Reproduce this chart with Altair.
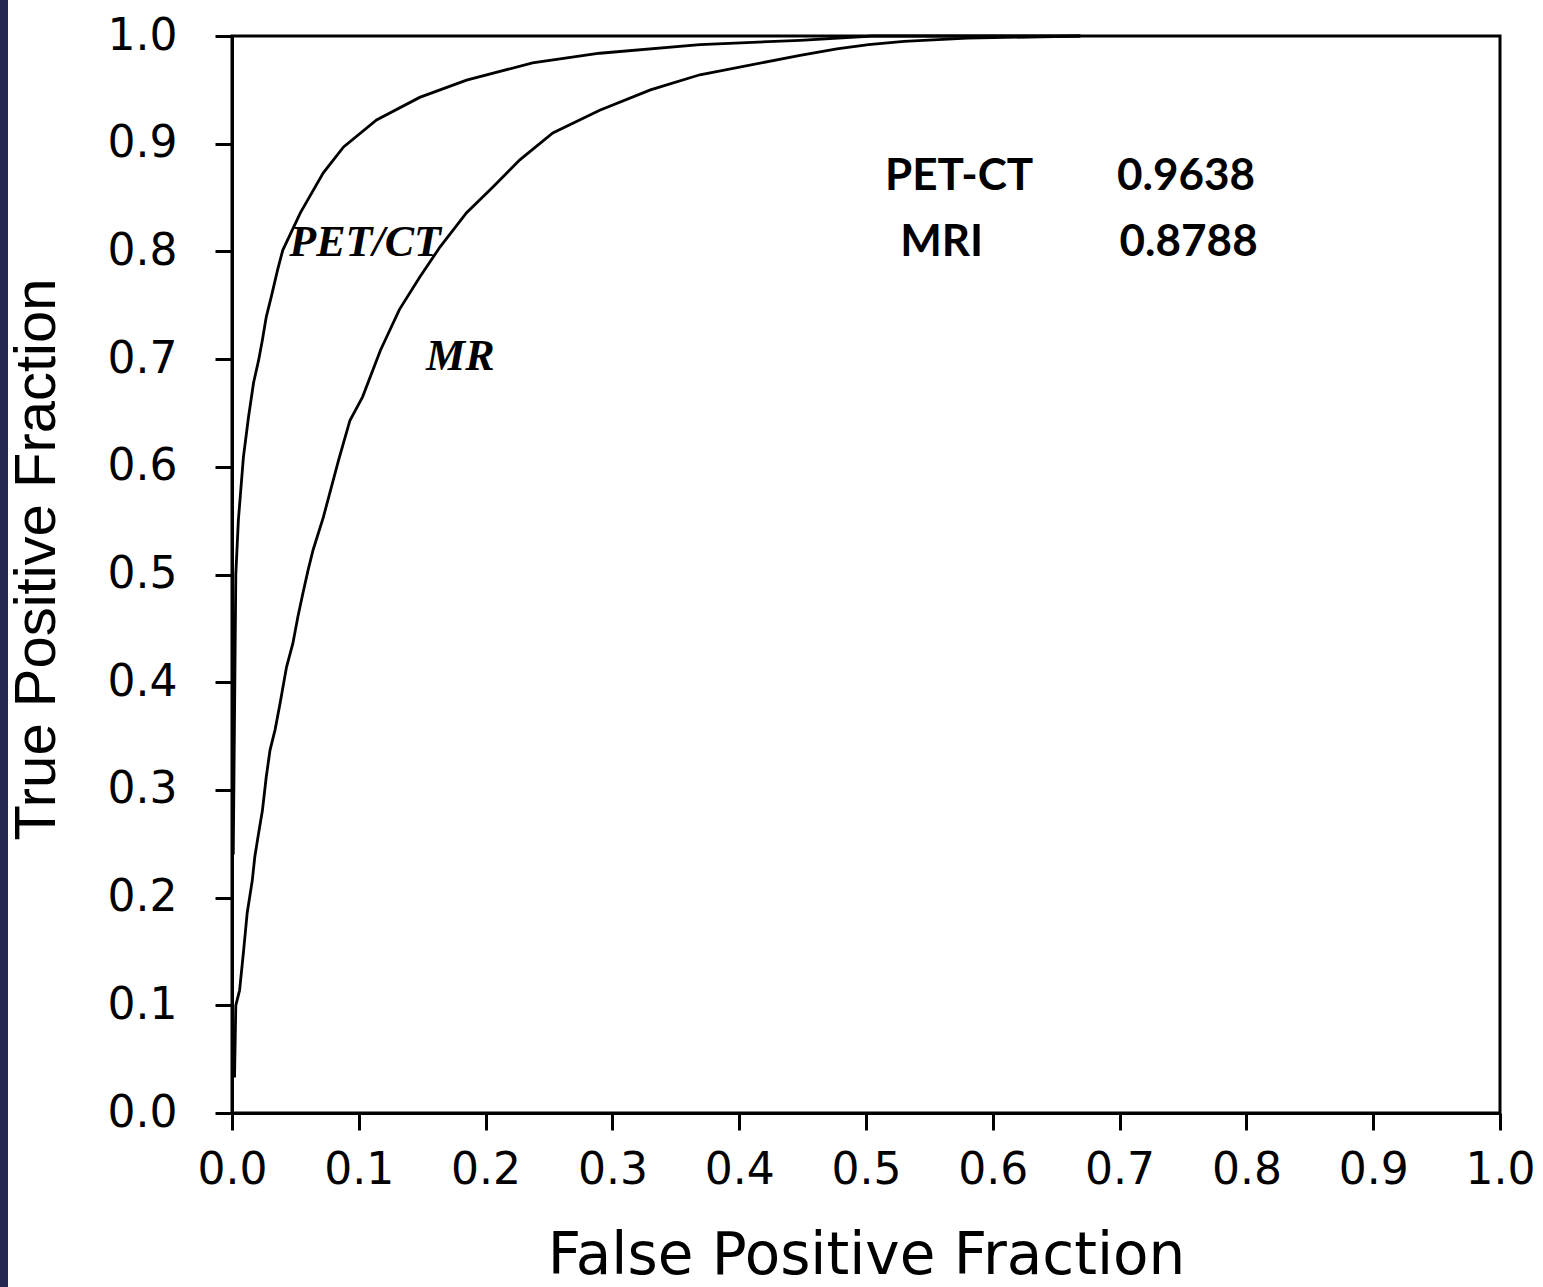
import altair as alt
import pandas as pd

# ROC curve points (False Positive Fraction, True Positive Fraction)
pet_fpf = [0.001, 0.003, 0.005, 0.009, 0.013, 0.017, 0.021, 0.024, 0.027, 0.031, 0.036, 0.040,
           0.054, 0.072, 0.088, 0.114, 0.148, 0.185, 0.237, 0.290, 0.369, 0.448, 0.505, 0.669]
pet_tpf = [0.240, 0.500, 0.550, 0.609, 0.646, 0.678, 0.699, 0.718, 0.739, 0.758, 0.783, 0.801,
           0.836, 0.873, 0.897, 0.922, 0.943, 0.959, 0.975, 0.984, 0.992, 0.996, 1.000, 1.000]

mri_fpf = [0.002, 0.003, 0.006, 0.009, 0.012, 0.016, 0.018, 0.021, 0.024, 0.027, 0.030, 0.034,
           0.038, 0.043, 0.048, 0.052, 0.056, 0.060, 0.064, 0.072, 0.084, 0.093, 0.103, 0.117,
           0.132, 0.148, 0.164, 0.185, 0.206, 0.227, 0.253, 0.290, 0.330, 0.369, 0.448, 0.477,
           0.502, 0.530, 0.580, 0.669]
mri_tpf = [0.033, 0.100, 0.114, 0.149, 0.186, 0.216, 0.238, 0.260, 0.281, 0.312, 0.337, 0.356,
           0.381, 0.414, 0.436, 0.461, 0.483, 0.504, 0.523, 0.553, 0.606, 0.643, 0.665, 0.708,
           0.746, 0.776, 0.804, 0.836, 0.860, 0.885, 0.910, 0.931, 0.950, 0.964, 0.982, 0.988,
           0.992, 0.995, 0.998, 1.000]

tick_values = [0.0, 0.1, 0.2, 0.3, 0.4, 0.5, 0.6, 0.7, 0.8, 0.9, 1.0]

# curve labels
curve_labels = ["PET/CT", "MR"]
curve_label_x = [0.105, 0.180]
curve_label_y = [0.808, 0.702]

# AUC table
auc_names = ["PET-CT", "MRI"]
auc_values = ["0.9638", "0.8788"]
auc_name_x = [0.515, 0.527]
auc_value_x = [0.698, 0.700]
auc_y = [0.869, 0.808]

rows = []
for i, (a, b) in enumerate(zip(pet_fpf, pet_tpf)):
    rows.append({"series": "PET/CT", "fpf": a, "tpf": b, "i": i})
for i, (a, b) in enumerate(zip(mri_fpf, mri_tpf)):
    rows.append({"series": "MR", "fpf": a, "tpf": b, "i": i})
curves = pd.DataFrame(rows)

lab = pd.DataFrame({"t": curve_labels, "x": curve_label_x, "y": curve_label_y})
auc_n = pd.DataFrame({"t": auc_names, "x": auc_name_x, "y": auc_y})
auc_v = pd.DataFrame({"t": auc_values, "x": auc_value_x, "y": auc_y})

xscale = alt.Scale(domain=[0, 1], nice=False, zero=False)
yscale = alt.Scale(domain=[0, 1], nice=False, zero=False)

lines = alt.Chart(curves).mark_line(color="black", strokeWidth=2.8).encode(
    x=alt.X("fpf:Q", scale=xscale,
            axis=alt.Axis(values=tick_values, format=".1f", title="False Positive Fraction",
                          labelPadding=18, titleY=160, titleBaseline="alphabetic",
                          titleFont="DejaVu Sans", titleFontSize=58,
                          labelFlush=False, labelOverlap=False)),
    y=alt.Y("tpf:Q", scale=yscale,
            axis=alt.Axis(values=tick_values, format=".1f", title="True Positive Fraction",
                          labelPadding=38, titleX=-195, titleY=523, titleAngle=-90,
                          titleBaseline="middle", titleAlign="center",
                          titleFont="Liberation Sans", titleFontSize=58,
                          labelFlush=False, labelOverlap=False)),
    detail="series:N",
    order="i:Q",
)

curve_text = alt.Chart(lab).mark_text(
    font="Liberation Serif", fontWeight="bold", fontStyle="italic", fontSize=44,
    color="black", align="center", baseline="middle"
).encode(x=alt.X("x:Q", scale=xscale), y=alt.Y("y:Q", scale=yscale), text="t:N")

auc_name_text = alt.Chart(auc_n).mark_text(
    font="Lato", fontWeight="bold", fontSize=44, color="black", align="left", baseline="middle"
).encode(x=alt.X("x:Q", scale=xscale), y=alt.Y("y:Q", scale=yscale), text="t:N")

auc_value_text = alt.Chart(auc_v).mark_text(
    font="Lato", fontWeight="bold", fontSize=44, color="black", align="left", baseline="middle"
).encode(x=alt.X("x:Q", scale=xscale), y=alt.Y("y:Q", scale=yscale), text="t:N")

strip = alt.Chart(pd.DataFrame({"a": [0]})).mark_rect(color="#242950", clip=False).encode(
    x=alt.value(-232), x2=alt.value(-224), y=alt.value(-36), y2=alt.value(1251)
)

chart = alt.layer(strip, lines, curve_text, auc_name_text, auc_value_text).properties(
    width=1268, height=1077,
    autosize=alt.AutoSizeParams(type="none"),
    padding={"left": 232, "top": 36, "right": 43, "bottom": 174},
    background="white",
).configure_view(
    stroke="black", strokeWidth=3
).configure_axis(
    grid=False,
    domainColor="black", domainWidth=3,
    tickColor="black", tickWidth=3, tickSize=17,
    labelFont="DejaVu Sans", labelFontSize=44, labelColor="black", labelFontWeight="normal",
    titleColor="black", titleFontWeight="normal",
)

chart.save("out.html", embed_options={"renderer": "svg", "actions": False})
